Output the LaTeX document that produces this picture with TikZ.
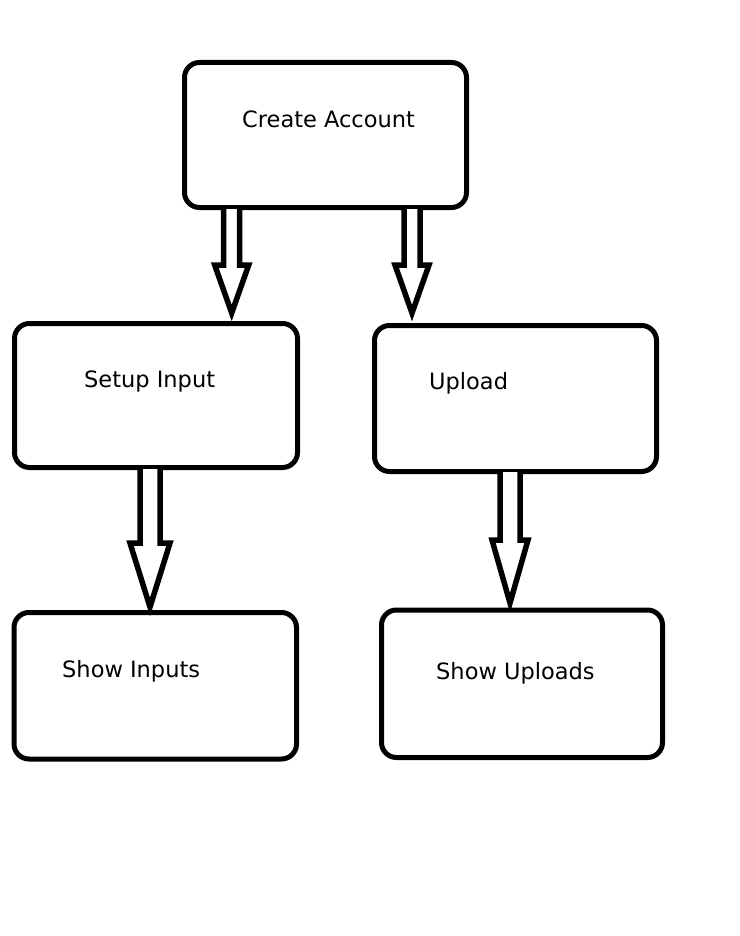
\documentclass[tikz,border=0pt]{standalone}
\usepackage{fontspec}
\setmainfont{DejaVu Sans}
\usetikzlibrary{calc}
\tikzset{
  box/.style={draw=black, line width=5pt, rounded corners=15pt, fill=white, inner sep=0pt},
  lbl/.style={anchor=base west, inner sep=0pt, font=\fontsize{22.5}{26}\selectfont},
  blk/.style={draw=black, line width=5.5pt, line join=miter, miter limit=4, fill=white}
}
\newcommand{\blockarrow}[5]{% start, end, head-base distance from end, shaft hw, head hw
  \draw[blk] ($(#1)+(-#4,0)$) -- ($(#2)+(-#4,-#3)$) -- ($(#2)+(-#5,-#3)$) -- (#2)
    -- ($(#2)+(#5,-#3)$) -- ($(#2)+(#4,-#3)$) -- ($(#1)+(#4,0)$);}
\begin{document}
\begin{tikzpicture}[x=1pt,y=-1pt]
\useasboundingbox (0,0) rectangle (739,936);
\fill[white] (0,0) rectangle (739,936);
% boxes
\node[box, minimum width=282pt, minimum height=145pt] (ca) at (325.5,135) {};
\node[box, minimum width=283pt, minimum height=144pt] (si) at (156,395.5) {};
\node[box, minimum width=282pt, minimum height=146pt] (up) at (515.5,398.5) {};
\node[box, minimum width=282.5pt, minimum height=146.5pt] (sh) at (155.25,685.75) {};
\node[box, minimum width=281pt, minimum height=147.5pt] (su) at (522,683.75) {};
% texts
\node[lbl] (tca) at (242,128) {Create Account};
\node[lbl] (tsi) at (84,387) {Setup Input};
\node[lbl] (tup) at (429,389) {Upload};
\node[lbl] (tsh) at (62,677) {Show Inputs};
\node[lbl] (tsu) at (436,679) {Show Uploads};
% arrow end points
\coordinate (a1s) at (231.7,209);
\coordinate (a1e) at (231.7,313);
\coordinate (a2s) at (412,209);
\coordinate (a2e) at (412,313);
\coordinate (a3s) at (150,469);
\coordinate (a3e) at (150,607);
\coordinate (a4s) at (510,472);
\coordinate (a4e) at (510,603);
\blockarrow{a1s}{a1e}{48}{8}{17}
\blockarrow{a2s}{a2e}{48}{8}{17}
\blockarrow{a3s}{a3e}{64}{10}{20}
\blockarrow{a4s}{a4e}{63}{10}{18}
\end{tikzpicture}
\end{document}
